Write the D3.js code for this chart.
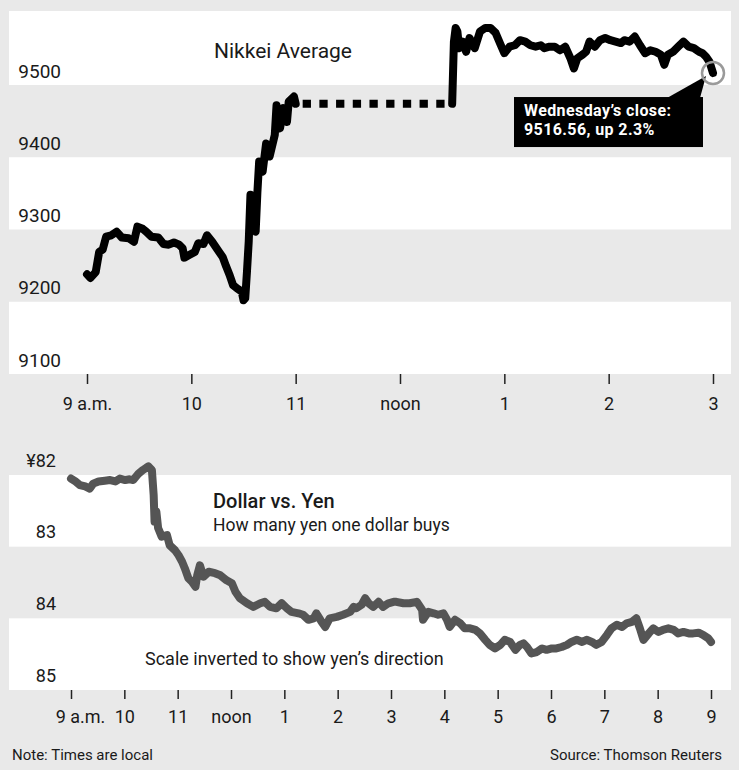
<!DOCTYPE html>
<html>
<head>
<meta charset="utf-8">
<script src="https://cdn.jsdelivr.net/npm/d3@7"></script>
<style>
  html, body { margin: 0; padding: 0; background: #e9e9e9; }
  svg { display: block; font-family: Roboto, "Noto Sans", sans-serif; }
</style>
</head>
<body>
<svg id="chart" width="739" height="770"></svg>
<script>
// ---- Nikkei Average, intraday (Tokyo time) ----
const nikkeiMorningTimes = ["9:00","9:02","9:05","9:07","9:09","9:11","9:14","9:17","9:20","9:24","9:27","9:29","9:32","9:34","9:37","9:41","9:44","9:47","9:50","9:53","9:55","9:56","9:59","10:02","10:04","10:07","10:09","10:12","10:16","10:18","10:20","10:22","10:24","10:26","10:29","10:30","10:31","10:32","10:33","10:34","10:35","10:37","10:38","10:39","10:41","10:43","10:45","10:48","10:49","10:51","10:53","10:55","10:56","10:59","11:00"];
const nikkeiMorningValues = [9238,9233,9241,9269,9272,9290,9292,9297,9289,9288,9283,9304,9301,9297,9290,9289,9280,9279,9282,9279,9274,9261,9265,9269,9281,9280,9292,9283,9269,9262,9249,9237,9223,9219,9214,9202,9205,9242,9283,9348,9306,9297,9352,9394,9380,9419,9401,9431,9472,9440,9468,9449,9477,9484,9474];
const nikkeiAfternoonTimes = ["12:30","12:31","12:32","12:33","12:34","12:36","12:38","12:40","12:43","12:46","12:49","12:52","12:55","12:58","13:00","13:03","13:06","13:09","13:12","13:15","13:18","13:21","13:23","13:26","13:29","13:32","13:35","13:38","13:40","13:42","13:45","13:47","13:49","13:52","13:55","13:58","14:01","14:04","14:07","14:09","14:12","14:15","14:18","14:21","14:24","14:27","14:30","14:32","14:34","14:37","14:40","14:43","14:46","14:49","14:52","14:54","14:56","14:58","15:00"];
const nikkeiAfternoonValues = [9474,9560,9579,9574,9551,9560,9546,9565,9551,9574,9579,9579,9572,9555,9544,9553,9555,9562,9560,9555,9553,9555,9551,9553,9553,9548,9553,9537,9523,9537,9542,9546,9560,9553,9562,9565,9562,9560,9558,9562,9560,9567,9555,9544,9548,9546,9542,9528,9542,9546,9553,9560,9553,9551,9546,9544,9539,9532,9516.56];
const nikkeiTicks = [9100, 9200, 9300, 9400, 9500];
const nikkeiHourTicks = ["9:00","10:00","11:00","12:00","13:00","14:00","15:00"];
const nikkeiHourLabels = ["9 a.m.","10","11","noon","1","2","3"];
const nikkeiChange = "up 2.3%";

// ---- Dollar vs. yen, yen per dollar ----
const yenTimes = ["9:00","9:05","9:10","9:16","9:21","9:25","9:31","9:38","9:44","9:50","9:55","10:01","10:06","10:10","10:16","10:21","10:27","10:31","10:33","10:34","10:36","10:38","10:42","10:48","10:51","10:57","11:01","11:05","11:08","11:12","11:16","11:20","11:22","11:25","11:29","11:35","11:42","11:48","11:55","12:01","12:05","12:10","12:18","12:25","12:33","12:38","12:44","12:51","12:57","13:03","13:08","13:16","13:21","13:27","13:33","13:36","13:42","13:46","13:51","13:59","14:06","14:14","14:18","14:21","14:27","14:31","14:35","14:40","14:46","14:51","14:57","15:03","15:06","15:14","15:21","15:29","15:35","15:36","15:42","15:48","15:53","15:59","16:03","16:06","16:12","16:18","16:23","16:29","16:35","16:40","16:46","16:51","16:57","17:03","17:08","17:14","17:20","17:25","17:29","17:33","17:38","17:44","17:50","17:55","18:01","18:06","18:12","18:18","18:23","18:29","18:35","18:40","18:46","18:51","18:57","19:03","19:08","19:14","19:20","19:25","19:31","19:36","19:40","19:44","19:50","19:55","20:01","20:06","20:12","20:18","20:23","20:29","20:35","20:40","20:46","20:51","20:57","21:00"];
const yenValues = [82.05,82.09,82.14,82.16,82.19,82.12,82.09,82.08,82.07,82.09,82.05,82.07,82.06,82.07,81.98,81.93,81.88,81.93,82.28,82.65,82.51,82.74,82.86,82.84,82.98,83.05,83.12,83.21,83.30,83.44,83.49,83.56,83.40,83.26,83.42,83.35,83.37,83.40,83.47,83.51,83.63,83.72,83.79,83.84,83.79,83.77,83.84,83.86,83.79,83.86,83.91,83.93,83.95,84.02,84.00,83.93,84.05,84.12,84.00,83.98,83.95,83.91,83.84,83.86,83.81,83.72,83.79,83.84,83.77,83.84,83.79,83.77,83.77,83.79,83.79,83.77,83.88,84.02,83.91,83.93,83.95,83.93,84.02,84.12,84.02,84.07,84.14,84.14,84.16,84.21,84.30,84.37,84.42,84.37,84.30,84.33,84.44,84.37,84.35,84.40,84.49,84.47,84.42,84.44,84.42,84.42,84.40,84.37,84.33,84.30,84.33,84.30,84.33,84.37,84.33,84.23,84.14,84.09,84.12,84.07,84.05,84.00,84.14,84.30,84.21,84.14,84.19,84.16,84.14,84.16,84.21,84.19,84.21,84.21,84.20,84.23,84.28,84.33];
const yenTicks = [82, 83, 84, 85];
const yenTickLabels = ["¥82", "83", "84", "85"];
const yenHourTicks = ["9:00","10:00","11:00","12:00","13:00","14:00","15:00","16:00","17:00","18:00","19:00","20:00","21:00"];
const yenHourLabels = ["9 a.m.","10","11","noon","1","2","3","4","5","6","7","8","9"];

const parse = d3.timeParse("%H:%M");
const zip = (ts, vs) => ts.map((t, i) => ({ t: parse(t), v: vs[i] }));

const BG = "#e9e9e9";
const svg = d3.select("#chart");
svg.append("rect").attr("width", 739).attr("height", 770).attr("fill", BG);

const panelLeft = 9, panelRight = 731;

// ================= Nikkei panel =================
const xN = d3.scaleTime().domain([parse("9:00"), parse("15:00")]).range([87, 713]);
const yN = d3.scaleLinear().domain([9100, 9500]).range([374, 85]);
const nTop = 11;

const gN = svg.append("g");
gN.append("rect")
  .attr("x", panelLeft).attr("y", nTop)
  .attr("width", panelRight - panelLeft).attr("height", yN(9100) - nTop)
  .attr("fill", "#fff");
// alternate shaded bands between ticks
const nBands = d3.pairs(nikkeiTicks).filter((_, i) => i % 2 === 1);
gN.selectAll("rect.band").data(nBands).join("rect")
  .attr("class", "band")
  .attr("x", panelLeft).attr("width", panelRight - panelLeft)
  .attr("y", d => yN(d[1])).attr("height", d => yN(d[0]) - yN(d[1]))
  .attr("fill", BG);

// y labels, sitting just above each band edge
const yAxisN = gN.append("g").attr("transform", "translate(61,0)")
  .call(d3.axisLeft(yN).tickValues(nikkeiTicks).tickSize(0).tickPadding(0).tickFormat(d3.format("d")));
yAxisN.select(".domain").remove();
yAxisN.selectAll("text").attr("dy", null).attr("y", -8)
  .attr("font-size", 19).attr("font-family", "Roboto").attr("fill", "#1a1a1a");

// x axis
const xAxisN = gN.append("g").attr("transform", `translate(0,${yN(9100)})`)
  .call(d3.axisBottom(xN).tickValues(nikkeiHourTicks.map(parse)).tickSize(10)
    .tickFormat((d, i) => nikkeiHourLabels[i]));
xAxisN.select(".domain").remove();
xAxisN.selectAll("line").attr("stroke", "#222").attr("stroke-width", 1.5);
xAxisN.selectAll("text").attr("dy", null).attr("y", 36)
  .attr("font-size", 18).attr("font-family", "Roboto").attr("fill", "#1a1a1a");

// title
gN.append("text").attr("x", 283).attr("y", 58).attr("text-anchor", "middle")
  .attr("font-size", 21).attr("fill", "#1a1a1a").text("Nikkei Average");

const lineN = d3.line().x(d => xN(d.t)).y(d => yN(d.v));
const morning = zip(nikkeiMorningTimes, nikkeiMorningValues);
const afternoon = zip(nikkeiAfternoonTimes, nikkeiAfternoonValues);

// lunch break: dashed link between sessions
gN.append("path")
  .attr("d", lineN([morning[morning.length - 1], { t: afternoon[0].t, v: morning[morning.length - 1].v }]))
  .attr("fill", "none").attr("stroke", "#000").attr("stroke-width", 8)
  .attr("stroke-dasharray", "8.3,8.4").attr("stroke-dashoffset", -7);

[morning, afternoon].forEach(seg => {
  gN.append("path").attr("d", lineN(seg))
    .attr("fill", "none").attr("stroke", "#000").attr("stroke-width", 8)
    .attr("stroke-linejoin", "round").attr("stroke-linecap", "round");
});

// closing value callout
const close = afternoon[afternoon.length - 1];
const cx = xN(close.t), cy = yN(close.v);
const box = { x: cx - 199, y: cy + 24, w: 189, h: 50 };
gN.append("path")
  .attr("d", `M${cx - 46},${box.y + 1}L${cx - 13},${box.y + 1}L${cx - 7},${cy + 3}Z`)
  .attr("fill", "#000");
gN.append("rect").attr("x", box.x).attr("y", box.y).attr("width", box.w).attr("height", box.h).attr("fill", "#000");
gN.append("circle").attr("cx", cx).attr("cy", cy).attr("r", 11)
  .attr("fill", "none").attr("stroke", "#9a9a9a").attr("stroke-width", 2.5);
gN.append("text").attr("x", box.x + 10).attr("y", box.y + 19)
  .attr("fill", "#fff").attr("font-weight", 700).attr("font-size", 16).attr("letter-spacing", 0.4)
  .text("Wednesday’s close:");
gN.append("text").attr("x", box.x + 10).attr("y", box.y + 38)
  .attr("fill", "#fff").attr("font-weight", 700).attr("font-size", 16).attr("letter-spacing", 0.4)
  .text(`${d3.format(".2f")(close.v)}, ${nikkeiChange}`);

// ================= Yen panel =================
const xY = d3.scaleTime().domain([parse("9:00"), parse("21:00")]).range([71, 711]);
const yY = d3.scaleLinear().domain([82, 85]).range([475, 690]);

const gY = svg.append("g");
const yBands = d3.pairs(yenTicks).filter((_, i) => i % 2 === 0);
gY.selectAll("rect.band").data(yBands).join("rect")
  .attr("class", "band")
  .attr("x", panelLeft).attr("width", panelRight - panelLeft)
  .attr("y", d => yY(d[0])).attr("height", d => yY(d[1]) - yY(d[0]))
  .attr("fill", "#fff");

const yAxisY = gY.append("g").attr("transform", "translate(56,0)")
  .call(d3.axisLeft(yY).tickValues(yenTicks).tickSize(0).tickPadding(0)
    .tickFormat((d, i) => yenTickLabels[i]));
yAxisY.select(".domain").remove();
yAxisY.selectAll("text").attr("dy", null).attr("y", -9)
  .attr("font-size", 18).attr("font-family", "Roboto").attr("fill", "#1a1a1a");

const xAxisY = gY.append("g").attr("transform", `translate(0,${yY(85)})`)
  .call(d3.axisBottom(xY).tickValues(yenHourTicks.map(parse)).tickSize(9)
    .tickFormat((d, i) => yenHourLabels[i]));
xAxisY.select(".domain").remove();
xAxisY.selectAll("line").attr("stroke", "#222").attr("stroke-width", 1.5);
xAxisY.selectAll("text").attr("dy", null).attr("y", 33)
  .attr("font-size", 18).attr("font-family", "Roboto").attr("fill", "#1a1a1a")
  .attr("dx", (d, i) => i === 0 ? 9 : 0);

gY.append("text").attr("x", 213).attr("y", 508)
  .attr("font-size", 20).attr("font-weight", 500).attr("fill", "#1a1a1a").text("Dollar vs. Yen");
gY.append("text").attr("x", 213).attr("y", 531)
  .attr("font-size", 17.5).attr("fill", "#1a1a1a").text("How many yen one dollar buys");
gY.append("text").attr("x", 145).attr("y", 665)
  .attr("font-size", 18).attr("fill", "#1a1a1a").text("Scale inverted to show yen’s direction");

const lineY = d3.line().x(d => xY(d.t)).y(d => yY(d.v));
gY.append("path").attr("d", lineY(zip(yenTimes, yenValues)))
  .attr("fill", "none").attr("stroke", "#555").attr("stroke-width", 8)
  .attr("stroke-linejoin", "round").attr("stroke-linecap", "round");

// ================= Footer =================
svg.append("text").attr("x", 12).attr("y", 760).attr("font-size", 15).attr("fill", "#1a1a1a")
  .text("Note: Times are local");
svg.append("text").attr("x", 722).attr("y", 760).attr("text-anchor", "end").attr("font-size", 15).attr("fill", "#1a1a1a")
  .text("Source: Thomson Reuters");
</script>
</body>
</html>
